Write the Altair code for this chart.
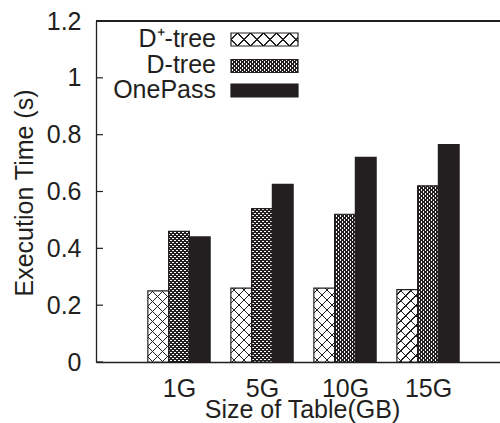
import json
import altair as alt
import pandas as pd

# ---------------- data ----------------
sizes = ["1G", "5G", "10G", "15G"]
series = ["D\u207a-tree", "D-tree", "OnePass"]
dplus_tree = [0.25, 0.26, 0.26, 0.255]
d_tree = [0.46, 0.54, 0.52, 0.62]
one_pass = [0.44, 0.625, 0.72, 0.765]
y_ticks = [0, 0.2, 0.4, 0.6, 0.8, 1, 1.2]

# ---------------- layout / style ----------------
W, H = 404, 341
XMIN = -1.0
PX_PER_UNIT = 83.0
XMAX = XMIN + W / PX_PER_UNIT
YMAX = 1.2
BAR = 0.25
INK = "#231f20"
FONT = "Liberation Sans"
FS = 25

values_by_series = [dplus_tree, d_tree, one_pass]
rows = []
for si, (name, vals) in enumerate(zip(series, values_by_series)):
    for gi, v in enumerate(vals):
        rows.append({"g": gi, "s": si, "series": name, "value": v})
df = pd.DataFrame(rows)

# hatch styles: (period along x in px, line width in px)
hatch_style = {0: (10.0, 1.0), 1: (4.0, 1.4)}
legend_hatch_style = {0: (13.0, 1.0), 1: (4.0, 1.4)}


def hatch_fill(w, h, period, lw, direction, color=INK):
    """Linear-gradient stripes at 45 degrees inside a w x h box."""
    L = w + h
    half = lw * 2 ** 0.5 / 2
    clear = "rgba(0,0,0,0)"
    stops = []
    s = period / 2
    while s - half < L:
        a = round(max(0.0, s - half) / L, 5)
        b = round(min(L, s + half) / L, 5)
        stops += [
            {"offset": a, "color": clear},
            {"offset": a, "color": color},
            {"offset": b, "color": color},
            {"offset": b, "color": clear},
        ]
        s += period
    c = L / (w * w + h * h)
    if direction > 0:
        return {"gradient": "linear", "x1": 0, "y1": 0,
                "x2": round(c * w, 6), "y2": round(c * h, 6), "stops": stops}
    return {"gradient": "linear", "x1": 0, "y1": 1,
            "x2": round(c * w, 6), "y2": round(1 - c * h, 6), "stops": stops}


xscale = alt.Scale(domain=[XMIN, XMAX], nice=False, zero=False)
yscale = alt.Scale(domain=[0, YMAX], nice=False)

base = alt.Chart(df).transform_calculate(
    x0=f"datum.g + (datum.s - 1.5) * {BAR}",
    x1=f"datum.g + (datum.s - 0.5) * {BAR}",
)

label_expr = json.dumps(sizes) + "[datum.value]"

bars = base.mark_rect(strokeWidth=0).encode(
    x=alt.X(
        "x0:Q", scale=xscale,
        axis=alt.Axis(
            values=list(range(len(sizes))), labelExpr=label_expr,
            ticks=False, grid=False, labelPadding=14, labelFontSize=FS,
            labelFont=FONT, labelColor=INK, domainColor=INK, domainWidth=1.3,
            title="Size of Table(GB)", titleFont=FONT, titleFontSize=FS,
            titleFontWeight="normal", titleColor=INK,
            titleX=206, titleY=55, titleAlign="center",
            titleBaseline="alphabetic",
        ),
    ),
    x2="x1:Q",
    y=alt.Y(
        "value:Q", scale=yscale,
        axis=alt.Axis(
            values=y_ticks, format="~g", ticks=False, tickSize=0, grid=False,
            labelPadding=15, labelFontSize=FS, labelFont=FONT, labelColor=INK,
            domainColor=INK, domainWidth=1.3,
            title="Execution Time (s)", titleFont=FONT, titleFontSize=FS,
            titleFontWeight="normal", titleColor=INK,
            titleX=-72, titleY=171.5, titleAlign="center",
            titleBaseline="middle", titleAngle=270,
        ),
    ),
    y2=alt.datum(0),
    fill=alt.Fill("series:N", scale=alt.Scale(domain=series,
                  range=["white", "white", INK]), legend=None),
)

layers = [bars]

bar_w = BAR * PX_PER_UNIT
for si in (0, 1):
    period, lw = hatch_style[si]
    for gi, v in enumerate(values_by_series[si]):
        h = v / YMAX * H
        for d in (1, -1):
            layers.append(
                base.transform_filter(
                    f"datum.s == {si} && datum.g == {gi}"
                ).mark_rect(
                    fill=hatch_fill(bar_w, h, period, lw, d), strokeWidth=0
                ).encode(x="x0:Q", x2="x1:Q", y="value:Q", y2=alt.datum(0))
            )

outline = base.mark_rect(fillOpacity=0, stroke=INK, strokeWidth=1.2).encode(
    x="x0:Q", x2="x1:Q", y="value:Q", y2=alt.datum(0)
)
layers.append(outline)

# inward y ticks
tick_df = pd.DataFrame({"t": y_ticks})
yt = alt.Chart(tick_df).mark_rule(color=INK, strokeWidth=1.2).encode(
    x=alt.value(0), x2=alt.value(7), y=alt.Y("t:Q", scale=yscale)
)
layers.append(yt)

# top border
top = alt.Chart(tick_df).mark_rule(color=INK, strokeWidth=1.3).encode(
    x=alt.value(0), x2=alt.value(W), y=alt.value(0)
)
layers.append(top)

# ---------------- manual legend ----------------
leg_df = pd.DataFrame({"series": series, "i": list(range(len(series)))})
LX0, LX1 = 135, 202
LTEXT_X = 120
row_y = [18.5, 45, 69.5]
text_base = [26, 52, 77]
BOX_H = 13
for i, name in enumerate(series):
    cy = row_y[i]
    row = alt.Chart(leg_df).transform_filter(f"datum.i == {i}")
    fill_col = INK if i == 2 else "white"
    layers.append(row.mark_rect(fill=fill_col, strokeWidth=0).encode(
        x=alt.value(LX0), x2=alt.value(LX1),
        y=alt.value(cy - BOX_H / 2), y2=alt.value(cy + BOX_H / 2)))
    if i in legend_hatch_style:
        period, lw = legend_hatch_style[i]
        for d in (1, -1):
            layers.append(row.mark_rect(
                fill=hatch_fill(LX1 - LX0, BOX_H, period, lw, d), strokeWidth=0
            ).encode(x=alt.value(LX0), x2=alt.value(LX1),
                     y=alt.value(cy - BOX_H / 2), y2=alt.value(cy + BOX_H / 2)))
    layers.append(row.mark_rect(fillOpacity=0, stroke=INK, strokeWidth=1.2).encode(
        x=alt.value(LX0), x2=alt.value(LX1),
        y=alt.value(cy - BOX_H / 2), y2=alt.value(cy + BOX_H / 2)))
    layers.append(row.mark_text(
        align="right", baseline="alphabetic", font=FONT, fontSize=FS, color=INK
    ).encode(x=alt.value(LTEXT_X), y=alt.value(text_base[i]), text="series:N"))

chart = alt.layer(*layers).properties(
    width=W, height=H,
    autosize=alt.AutoSizeParams(type="none"),
    padding={"left": 96, "top": 21, "right": 0, "bottom": 61},
).configure_view(stroke=None).configure(background="white")

chart.save("out.html", embed_options={"renderer": "svg", "actions": False})
